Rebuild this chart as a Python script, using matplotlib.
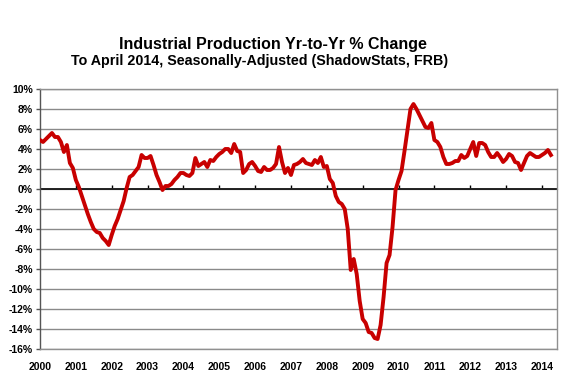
import matplotlib.pyplot as plt
import numpy as np

plt.rcParams['font.family'] = ['Liberation Sans', 'DejaVu Sans']

# Industrial production, year-to-year % change, monthly Jan 2000 - Apr 2014
ip_2000 = [4.9, 4.7, 5.0, 5.3, 5.6, 5.2, 5.2, 4.7, 3.7, 4.4, 2.6, 2.1]
ip_2001 = [0.9, 0.2, -0.7, -1.6, -2.5, -3.3, -4.0, -4.3, -4.4, -4.9, -5.2, -5.6]
ip_2002 = [-4.6, -3.7, -3.0, -2.1, -1.2, 0.1, 1.2, 1.4, 1.8, 2.2, 3.4, 3.1]
ip_2003 = [3.1, 3.3, 2.4, 1.4, 0.7, -0.1, 0.3, 0.3, 0.5, 0.9, 1.2, 1.6]
ip_2004 = [1.6, 1.4, 1.3, 1.6, 3.1, 2.3, 2.5, 2.7, 2.2, 2.9, 2.8, 3.2]
ip_2005 = [3.5, 3.7, 4.0, 4.0, 3.6, 4.5, 3.8, 3.7, 1.6, 1.9, 2.5, 2.7]
ip_2006 = [2.3, 1.8, 1.7, 2.2, 1.9, 1.9, 2.1, 2.5, 4.2, 2.7, 1.6, 2.1]
ip_2007 = [1.4, 2.4, 2.5, 2.7, 3.0, 2.6, 2.5, 2.4, 2.9, 2.6, 3.2, 2.2]
ip_2008 = [2.3, 1.0, 0.6, -0.7, -1.3, -1.5, -2.0, -4.0, -8.1, -7.0, -8.5, -11.2]
ip_2009 = [-13.0, -13.4, -14.3, -14.4, -14.9, -15.0, -13.6, -10.8, -7.4, -6.6, -3.8, -0.1]
ip_2010 = [0.9, 1.8, 3.8, 5.9, 8.0, 8.5, 8.0, 7.4, 6.8, 6.2, 6.1, 6.6]
ip_2011 = [4.9, 4.7, 4.2, 3.2, 2.5, 2.5, 2.6, 2.8, 2.8, 3.4, 3.1, 3.3]
ip_2012 = [4.0, 4.7, 3.3, 4.6, 4.6, 4.4, 3.7, 3.2, 3.2, 3.6, 3.2, 2.7]
ip_2013 = [3.0, 3.5, 3.3, 2.7, 2.6, 1.9, 2.6, 3.3, 3.6, 3.4, 3.2, 3.2]
ip_2014 = [3.4, 3.6, 3.9, 3.4]

years = list(range(2000, 2015))
y_ticks = list(range(-16, 11, 2))

values = (ip_2000 + ip_2001 + ip_2002 + ip_2003 + ip_2004 + ip_2005 + ip_2006
          + ip_2007 + ip_2008 + ip_2009 + ip_2010 + ip_2011 + ip_2012 + ip_2013
          + ip_2014)
t = 2000 + np.arange(len(values)) / 12.0

fig = plt.figure(figsize=(5.75, 3.89), dpi=100)
ax = fig.add_axes([40 / 575, 1 - 349 / 389, 517 / 575, 260 / 389])

ymin, ymax = -16, 10
ax.set_xlim(2000, 2014.42)
ax.set_ylim(ymin, ymax)

# horizontal grid, darker zero line
for v in y_ticks:
    if v == 0:
        continue
    ax.axhline(v, color='#8a8a8a', lw=1.0, zorder=1)
ax.axhline(0, color='#222222', lw=1.4, zorder=2)

ax.plot(t, values, color='#c80000', lw=2.8, solid_joinstyle='round', zorder=3)

# y axis
ax.set_yticks(y_ticks)
ax.set_yticklabels(['%d%%' % v for v in y_ticks])
ax.tick_params(axis='y', direction='out', length=3, width=1, color='#555555',
               pad=2, labelsize=7.5)

# year labels at the bottom, tick marks on the zero line
ax.set_xticks(years)
ax.set_xticklabels([str(y) for y in years])
ax.tick_params(axis='x', length=0, pad=9, labelsize=7.5)
for lab in ax.get_xticklabels() + ax.get_yticklabels():
    lab.set_fontweight('bold')

zero_ax = ax.secondary_xaxis((0 - ymin) / (ymax - ymin))
zero_ax.set_xticks(years[1:])
zero_ax.set_xticklabels([])
zero_ax.tick_params(axis='x', direction='out', length=3, width=1, color='black')
zero_ax.spines['bottom'].set_visible(False)

for side in ['top', 'right', 'bottom']:
    ax.spines[side].set_color('#909090')
    ax.spines[side].set_linewidth(1.0)
ax.spines['left'].set_color('#555555')
ax.spines['left'].set_linewidth(1.0)

fig.text(273 / 575, 1 - 44 / 389, 'Industrial Production Yr-to-Yr % Change',
         ha='center', va='center', fontsize=11.5, fontweight='bold')
fig.text(260 / 575, 1 - 61 / 389,
         'To April 2014, Seasonally-Adjusted (ShadowStats, FRB)',
         ha='center', va='center', fontsize=10.3, fontweight='bold')

fig.savefig('out.png', dpi=100)
